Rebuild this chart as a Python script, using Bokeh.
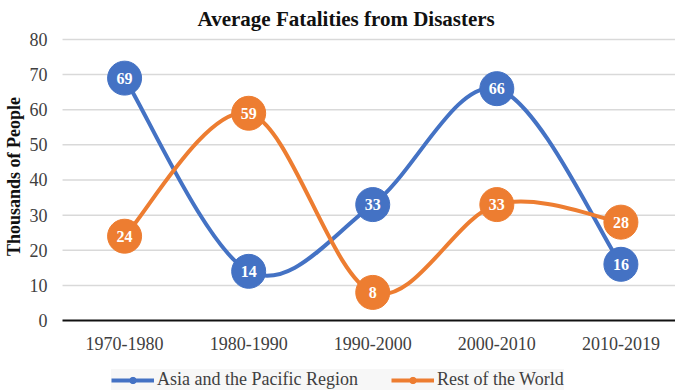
import math
from bokeh.plotting import figure
from bokeh.models import (ColumnDataSource, Legend, LegendItem, FixedTicker,
                          LinearAxis, Label)
from bokeh.core.properties import value
from bokeh.embed import file_html
from bokeh.resources import INLINE

# Decades on the category axis and the two series (thousands of people)
decades = ["1970-1980", "1980-1990", "1990-2000", "2000-2010", "2010-2019"]
asia_pacific = [69, 14, 33, 66, 16]
rest_of_world = [24, 59, 8, 33, 28]
y_ticks = [0, 10, 20, 30, 40, 50, 60, 70, 80]

BLUE = "#4472C4"
ORANGE = "#ED7D31"
SERIF = "Liberation Serif"

xs = list(range(len(decades)))

# plotting area in data units; the frame fills the canvas so that the
# title, axis titles and legend can sit around the 0..80 band
X_LO, X_HI = -1.0, 4.44
Y_LO, Y_HI = -20.21, 91.10
AREA_LEFT = -0.5


def smooth_segments(x, y):
    """Catmull-Rom style cubic bezier segments through the points."""
    n = len(x)
    seg = dict(x0=[], y0=[], x1=[], y1=[], cx0=[], cy0=[], cx1=[], cy1=[])
    for i in range(n - 1):
        xp, yp = (x[i - 1], y[i - 1]) if i > 0 else (x[i], y[i])
        xn, yn = (x[i + 2], y[i + 2]) if i + 2 < n else (x[i + 1], y[i + 1])
        seg["x0"].append(x[i]); seg["y0"].append(y[i])
        seg["x1"].append(x[i + 1]); seg["y1"].append(y[i + 1])
        seg["cx0"].append(x[i] + (x[i + 1] - xp) / 6)
        seg["cy0"].append(y[i] + (y[i + 1] - yp) / 6)
        seg["cx1"].append(x[i + 1] - (xn - x[i]) / 6)
        seg["cy1"].append(y[i + 1] - (yn - y[i]) / 6)
    return seg


p = figure(width=675, height=391, output_backend="svg", toolbar_location=None,
           x_range=(X_LO, X_HI), y_range=(Y_LO, Y_HI),
           x_axis_type=None, y_axis_type=None,
           min_border=0, outline_line_color=None)
p.background_fill_color = "white"
p.border_fill_color = "white"
p.grid.visible = False

# horizontal gridlines at the y ticks (0 is covered by the axis line)
p.segment(x0=AREA_LEFT, x1=X_HI, y0=y_ticks[1:], y1=y_ticks[1:],
          line_color="#d9d9d9", line_width=1.5)

# category axis pinned at y = 0
xaxis = LinearAxis(fixed_location=0, bounds=(AREA_LEFT, X_HI),
                   ticker=FixedTicker(ticks=xs),
                   major_label_overrides={i: d for i, d in enumerate(decades)})
# value axis pinned at the left edge of the plotting area
yaxis = LinearAxis(fixed_location=AREA_LEFT, ticker=FixedTicker(ticks=y_ticks),
                   axis_line_color=None)
for ax in (xaxis, yaxis):
    ax.major_tick_line_color = None
    ax.minor_tick_line_color = None
    ax.major_label_text_font = SERIF
    ax.major_label_text_font_size = "18px"
    ax.major_label_text_color = "#404040"
xaxis.axis_line_color = "#111111"
xaxis.axis_line_width = 2
xaxis.major_label_standoff = 10
yaxis.major_label_standoff = 9
p.add_layout(xaxis, "below")
p.add_layout(yaxis, "left")

items = []
for name, vals, color in [("Asia and the Pacific Region", asia_pacific, BLUE),
                          ("Rest of the World", rest_of_world, ORANGE)]:
    curve = p.bezier(source=ColumnDataSource(smooth_segments(xs, vals)),
                     x0="x0", y0="y0", x1="x1", y1="y1",
                     cx0="cx0", cy0="cy0", cx1="cx1", cy1="cy1",
                     line_color=color, line_width=4)
    src = ColumnDataSource(dict(x=xs, y=vals, t=[str(v) for v in vals]))
    dots = p.scatter("x", "y", source=src, size=34, fill_color=color,
                     line_color=color)
    p.text("x", "y", text="t", source=src, text_color="white",
           text_font=value(SERIF), text_font_style="bold",
           text_font_size="16px", text_align="center",
           text_baseline="middle")
    items.append(LegendItem(label=name, renderers=[curve, dots]))

legend = Legend(items=items, orientation="horizontal",
                location=(111, 1), label_text_font=SERIF,
                label_text_font_size="18px", label_text_color="#404040",
                background_fill_color="#f7f7f7", border_line_color=None,
                glyph_width=43, glyph_height=16, spacing=33,
                label_standoff=3, padding=6, margin=0)
p.add_layout(legend, "center")

p.add_layout(Label(x=1.786, y=85.7, text="Average Fatalities from Disasters",
                   text_font=SERIF, text_font_style="bold",
                   text_font_size="21px", text_color="#111111",
                   text_align="center", text_baseline="middle"))
p.add_layout(Label(x=-0.895, y=41.0, text="Thousands of People", angle=math.pi / 2,
                   text_font=SERIF, text_font_style="bold",
                   text_font_size="18px", text_color="#111111",
                   text_align="center", text_baseline="middle"))

open("out.html", "w").write(file_html(p, INLINE))
